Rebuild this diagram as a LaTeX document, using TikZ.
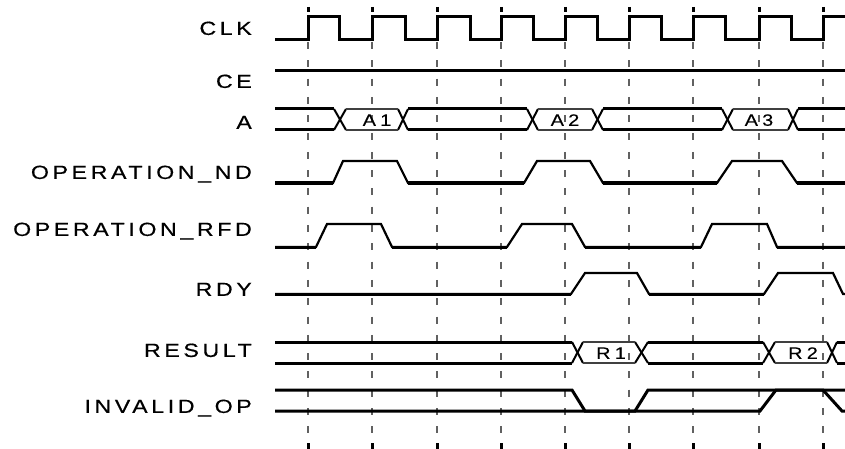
\documentclass[tikz,border=0pt]{standalone}
\usepackage{fontspec}
\newfontfamily\labfont[LetterSpace=19,FakeStretch=1.22,FakeBold=0.5]{Liberation Sans}
\newfontfamily\boxfont[LetterSpace=26,FakeStretch=1.2,FakeBold=0.3]{Liberation Sans}
\begin{document}
\begin{tikzpicture}[x=1pt,y=-1pt,line join=miter]
\tikzset{
  lab/.style={anchor=base east,inner sep=0pt,font=\labfont\fontsize{19}{19}\selectfont},
  boxtxt/.style={anchor=base,inner sep=0pt,font=\boxfont\fontsize{16.5}{16.5}\selectfont},
  grid/.style={draw=black!62,line width=1.3pt,dash pattern=on 7pt off 11.3pt},
  tickmark/.style={draw=black,line width=3pt},
  thickline/.style={draw=black,line width=3pt},
  sigline/.style={draw=black,line width=2.2pt},
  xline/.style={draw=black,line width=2pt},
  boxline/.style={draw=black!75,line width=1.6pt},
}
\useasboundingbox (0,0) rectangle (845,449);
% grid lines and ticks
\foreach \x in {308,372,437,501,565,629,693,759,823}{
  \draw[grid] (\x,42) -- (\x,433);
  \draw[tickmark] (\x,7) -- (\x,12);
  \draw[tickmark] (\x,443) -- (\x,449);
}
% labels
\node[lab] (lclk) at (252,34.9) {CLK};
\node[lab] (lce) at (252,87.9) {CE};
\node[lab] (la) at (252,128.9) {A};
\node[lab] (lnd) at (252,178.9) {OPERATION\_ND};
\node[lab] (lrfd) at (252,235.9) {OPERATION\_RFD};
\node[lab] (lrdy) at (252,295.9) {RDY};
\node[lab] (lres) at (252,356.9) {RESULT};
\node[lab] (linv) at (252,412.9) {INVALID\_OP};
% CLK
\draw[thickline] (275,40) -- (308,40) -- (308,17) -- (339,17) -- (339,40)
  -- (372,40) -- (372,17) -- (405,17) -- (405,40)
  -- (437,40) -- (437,17) -- (470,17) -- (470,40)
  -- (501,40) -- (501,17) -- (533,17) -- (533,40)
  -- (565,40) -- (565,17) -- (597,17) -- (597,40)
  -- (629,40) -- (629,17) -- (661,17) -- (661,40)
  -- (693,40) -- (693,17) -- (725,17) -- (725,40)
  -- (759,40) -- (759,17) -- (791,17) -- (791,40)
  -- (823,40) -- (823,17) -- (845,17);
% CE
\draw[thickline] (275,71) -- (845,71);
% A bus
\foreach \a/\b in {275/334,408/527,603/722,798/845}{
  \draw[thickline] (\a,109) -- (\b,109);
  \draw[thickline] (\a,130) -- (\b,130);
}
\foreach \a/\b in {334/346,398/408,527/538,592/603,722/733,788/798}{
  \draw[xline] (\a,109) -- (\b,130);
  \draw[xline] (\a,130) -- (\b,109);
}
\foreach \a/\b in {346/398,538/592,733/788}{
  \draw[boxline] (\a,109) -- (\b,109);
  \draw[boxline] (\a,130) -- (\b,130);
}
\node[boxtxt] (ta1) at (377,125.8) {A1};
\node[boxtxt] (ta2) at (565,125.8) {A2};
\node[boxtxt] (ta3) at (759,125.8) {A3};
% OPERATION_ND
\draw[sigline] (275,183) -- (333,183) -- (343,161) -- (397,161) -- (408,183)
  -- (524,183) -- (537,161) -- (590,161) -- (603,183)
  -- (717,183) -- (732,161) -- (782,161) -- (797,183) -- (845,183);
\foreach \a/\b in {275/333,408/524,603/717,797/845}
  \draw[thickline] (\a,183) -- (\b,183);
% OPERATION_RFD
\draw[sigline] (275,247) -- (316,247) -- (327,224) -- (381,224) -- (392,247)
  -- (507,247) -- (522,224) -- (572,224) -- (585,247)
  -- (701,247) -- (712,224) -- (767,224) -- (777,247) -- (845,247);
\foreach \a/\b in {275/316,392/507,585/701,777/845}
  \draw[thickline] (\a,247) -- (\b,247);
% RDY
\draw[sigline] (275,294) -- (571,294) -- (585,273) -- (637,273) -- (649,294)
  -- (764,294) -- (778,273) -- (833,273) -- (843,294) -- (845,294);
\foreach \a/\b in {275/571,649/764}
  \draw[thickline] (\a,294) -- (\b,294);
% RESULT bus
\foreach \a/\b in {275/572,648/763,837/845}{
  \draw[thickline] (\a,342) -- (\b,342);
  \draw[thickline] (\a,363) -- (\b,363);
}
\foreach \a/\b in {572/583,635/648,763/775,827/837}{
  \draw[xline] (\a,342) -- (\b,363);
  \draw[xline] (\a,363) -- (\b,342);
}
\foreach \a/\b in {583/635,775/827}{
  \draw[boxline] (\a,342) -- (\b,342);
  \draw[boxline] (\a,363) -- (\b,363);
}
\node[boxtxt] (tr1) at (611,358.8) {R1};
\node[boxtxt] (tr2) at (803,358.8) {R2};
% INVALID_OP
\draw[thickline] (275,390) -- (572,390) -- (585,411) -- (635,411) -- (648,390)
  -- (823,390) -- (842,411) -- (845,411);
\draw[thickline] (275,411) -- (760,411) -- (776,390) -- (845,390);
\end{tikzpicture}
\end{document}
